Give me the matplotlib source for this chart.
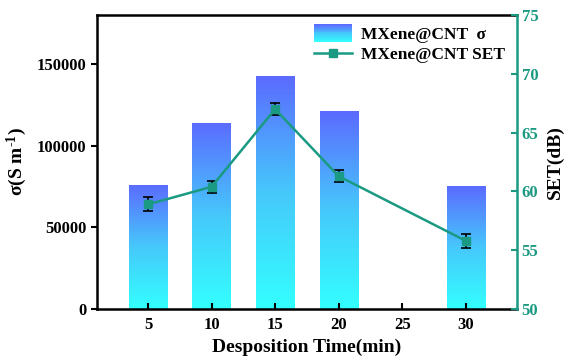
import numpy as np
import matplotlib
matplotlib.use("Agg")
import matplotlib.pyplot as plt
from matplotlib.patches import Rectangle
from matplotlib.colors import LinearSegmentedColormap
from matplotlib.legend_handler import HandlerBase

plt.rcParams['font.family'] = ['Liberation Serif', 'DejaVu Serif']
plt.rcParams['font.weight'] = 'bold'
plt.rcParams['axes.labelweight'] = 'bold'
plt.rcParams['mathtext.fontset'] = 'custom'
plt.rcParams['mathtext.rm'] = 'Liberation Serif'
plt.rcParams['mathtext.bf'] = 'Liberation Serif:bold'
plt.rcParams['mathtext.it'] = 'Liberation Serif:italic'
plt.rcParams['mathtext.default'] = 'bf'

# deposition time (min)
times = [5, 10, 15, 20, 30]
# conductivity (S/m)
sigma = [76000, 114000, 142500, 121000, 75300]
# shielding effectiveness (dB) and error
set_db = [58.9, 60.4, 67.0, 61.3, 55.8]
set_err = [0.6, 0.5, 0.5, 0.5, 0.6]
xticks = [5, 10, 15, 20, 25, 30]

teal = '#1a9a82'
grad = LinearSegmentedColormap.from_list('grad', ['#33ffff', '#46c8fb', '#5b6bff'])

fig = plt.figure(figsize=(5.71, 3.59), dpi=100)
ax = fig.add_axes([0.170, 0.139, 0.735, 0.819])
ax2 = ax.twinx()

bw = 3.0
bars = ax.bar(times, sigma, width=bw, color='none', edgecolor='none', zorder=1)
gimg = np.linspace(0, 1, 256).reshape(-1, 1)
for b in bars:
    x0, y0 = b.get_x(), b.get_y()
    w, h = b.get_width(), b.get_height()
    im = ax.imshow(gimg, cmap=grad, origin='lower', aspect='auto',
                   extent=[x0, x0 + w, y0, y0 + h], zorder=1)
    im.set_clip_path(b)

ax.set_xlim(1, 34)
ax.set_ylim(0, 180000)
ax.set_xticks(xticks)
ax.set_yticks([0, 50000, 100000, 150000])
ax.tick_params(axis='x', direction='in', length=4, width=1.5, labelsize=12, pad=6)
ax.tick_params(axis='y', direction='out', length=4, width=1.5, labelsize=12)
for s in ['left', 'bottom', 'top']:
    ax.spines[s].set_linewidth(1.8)
ax.spines['right'].set_visible(False)
ax.set_xlabel('Desposition Time(min)', fontsize=14, labelpad=4)
ax.set_ylabel('σ(S m$^{\\text{-1}}$)', fontsize=14, labelpad=6)

ax2.errorbar(times, set_db, yerr=set_err, color=teal, lw=1.8, marker='s', ms=6,
             mfc=teal, mec=teal, ecolor='black', elinewidth=1.2, capsize=3.5,
             capthick=1.2, zorder=3)
ax2.set_ylim(50, 75)
ax2.set_yticks([50, 55, 60, 65, 70, 75])
ax2.tick_params(axis='y', direction='in', length=4, width=1.5, colors=teal,
                labelsize=12)
ax2.spines['right'].set_color(teal)
ax2.spines['right'].set_linewidth(1.8)
for s in ['left', 'bottom', 'top']:
    ax2.spines[s].set_visible(False)
ax2.set_ylabel('SET(dB)', fontsize=14, color='black', labelpad=6)


class GradientHandler(HandlerBase):
    def create_artists(self, legend, orig_handle, xdescent, ydescent,
                       width, height, fontsize, trans):
        n = 20
        arts = []
        y0 = -ydescent - 2
        hh = height + 4
        for i in range(n):
            r = Rectangle((-xdescent, y0 + hh * i / n), width,
                          hh / n + 0.3, facecolor=grad(i / (n - 1)),
                          edgecolor='none', transform=trans)
            arts.append(r)
        return arts


bar_handle = Rectangle((0, 0), 1, 1)
line_handle = ax2.lines[0]
leg = ax2.legend([bar_handle, line_handle], ['MXene@CNT  σ', 'MXene@CNT SET'],
                 handler_map={Rectangle: GradientHandler()},
                 loc='upper right', bbox_to_anchor=(1.0, 1.0), frameon=False,
                 prop={'size': 12.5, 'weight': 'bold'}, handlelength=2.2,
                 handletextpad=0.5, labelspacing=0.2, borderaxespad=0.3)

fig.savefig('out.png', dpi=100)
